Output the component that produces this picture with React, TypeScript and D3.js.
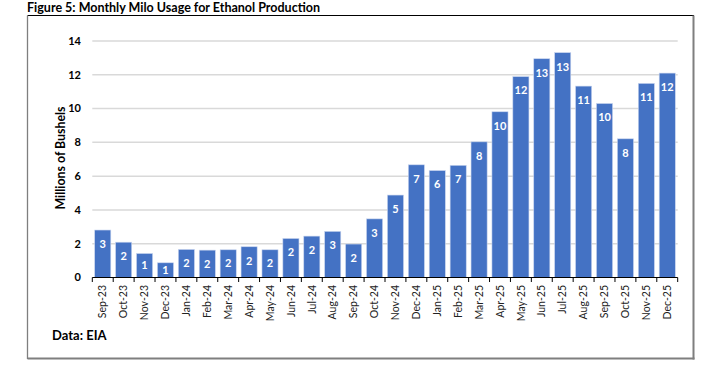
import React from "react";
import * as d3 from "d3";

const months = [
  "Sep-23","Oct-23","Nov-23","Dec-23","Jan-24","Feb-24","Mar-24","Apr-24","May-24","Jun-24","Jul-24","Aug-24","Sep-24","Oct-24","Nov-24","Dec-24",
  "Jan-25","Feb-25","Mar-25","Apr-25","May-25","Jun-25","Jul-25","Aug-25","Sep-25","Oct-25","Nov-25","Dec-25",
];
const usage = [
  2.81, 2.09, 1.42, 0.87, 1.66, 1.62, 1.64, 1.82, 1.64, 2.31, 2.45, 2.73, 1.98, 3.47, 4.88, 6.67,
  6.33, 6.64, 8.03, 9.81, 11.89, 12.95, 13.31, 11.33, 10.3, 8.21, 11.49, 12.1,
];
const yTicks = [0, 2, 4, 6, 8, 10, 12, 14];
const title = "Figure 5: Monthly Milo Usage for Ethanol Production";
const yTitle = "Millions of Bushels";
const source = "Data: EIA";

const W = 724;
const H = 367;
const FONT = "Lato, 'Open Sans', sans-serif";

export default function App() {
  const x = d3.scaleBand<string>().domain(months).range([92.3, 677.7]).paddingInner(0.23).paddingOuter(0.115);
  const y = d3.scaleLinear().domain([0, 14]).range([277.5, 41]);
  const step = x.step();
  const x0 = 92.3;
  return (
    <svg width={W} height={H} style={{ position: "absolute", left: 0, top: 0, background: "#fff" }} fontFamily={FONT}>
      <text x={27} y={11.5} fontSize={12.5} fontWeight={700} fill="#000" textLength={293} lengthAdjust="spacingAndGlyphs">{title}</text>
      {/* frame */}
      <line x1={27.5} x2={694} y1={15.5} y2={15.5} stroke="#000" strokeWidth={1} />
      <line x1={27.5} x2={27.5} y1={15.5} y2={359} stroke="#7f7f7f" strokeWidth={1.3} />
      <line x1={693.5} x2={693.5} y1={15.5} y2={359.5} stroke="#7f7f7f" strokeWidth={2} />
      <line x1={27.5} x2={694.5} y1={358.5} y2={358.5} stroke="#7f7f7f" strokeWidth={2} />
      {/* gridlines */}
      {yTicks.filter((t) => t > 0).map((t) => (
        <line key={t} x1={x0} x2={677.7} y1={y(t)} y2={y(t)} stroke="#d9d9d9" strokeWidth={1.5} />
      ))}
      {/* y tick labels */}
      {yTicks.map((t) => (
        <text key={t} x={81} y={y(t)} dy="0.35em" textAnchor="end" fontSize={11} fontWeight={700} fill="#000">{t}</text>
      ))}
      <text transform={`translate(61,158) rotate(-90)`} textAnchor="middle" dy="0.35em" fontSize={12.5} fontWeight={700} fill="#000" textLength={103} lengthAdjust="spacingAndGlyphs">{yTitle}</text>
      {/* bars */}
      {months.map((m, i) => {
        const top = y(usage[i]);
        const h = y(0) - top;
        const cy = top + Math.min(14, h / 2);
        return (
          <g key={m}>
            <rect x={x(m)} y={top} width={x.bandwidth()} height={h} fill="#4472c4" stroke="#c9d5ee" strokeWidth={0.6} />
            <text x={(x(m) as number) + x.bandwidth() / 2} y={cy} dy="0.35em" textAnchor="middle" fontSize={11} fontWeight={700} fill="#fff">{Math.round(usage[i])}</text>
          </g>
        );
      })}
      {/* x axis */}
      <line x1={x0} x2={677.7} y1={277.5} y2={277.5} stroke="#000" strokeWidth={1} />
      {d3.range(months.length + 1).map((i) => (
        <line key={i} x1={x0 + i * step} x2={x0 + i * step} y1={277.5} y2={282} stroke="#000" strokeWidth={1} />
      ))}
      {months.map((m) => (
        <text key={m} transform={`translate(${(x(m) as number) + x.bandwidth() / 2},285) rotate(-90)`} textAnchor="end" dy="0.35em" fontSize={10.5} fill="#222">{m}</text>
      ))}
      <text x={52} y={340} fontSize={13} fontWeight={700} fill="#000">{source}</text>
    </svg>
  );
}
